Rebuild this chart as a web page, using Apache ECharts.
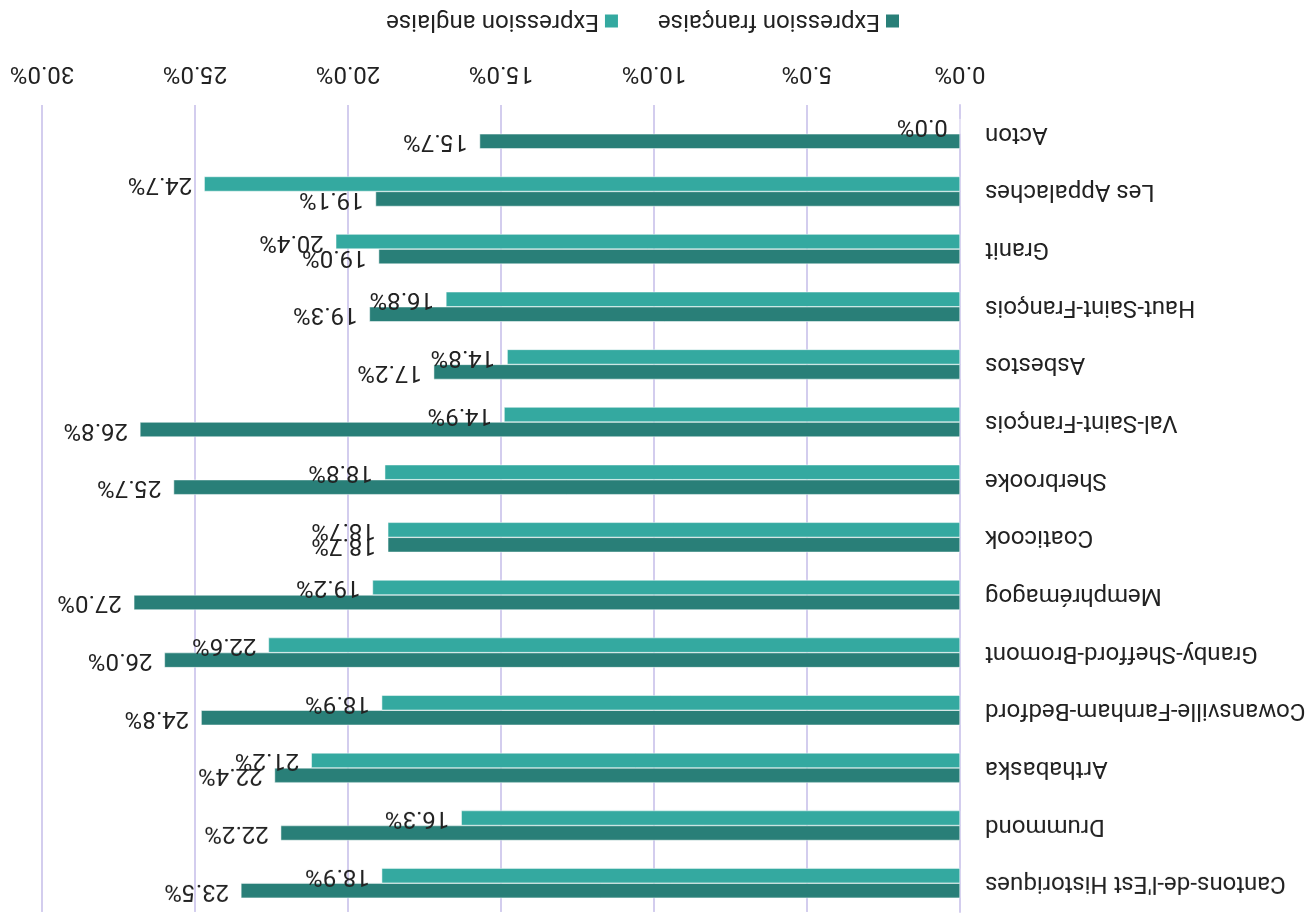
<!DOCTYPE html>
<html>
<head>
<meta charset="utf-8">
<script src="https://cdn.jsdelivr.net/npm/echarts@6/dist/echarts.min.js"></script>
<style>
  html, body { margin: 0; padding: 0; background: #fff; }
  #chart { width: 1309px; height: 920px; transform: rotate(180deg); }
</style>
</head>
<body>
<div id="chart"></div>
<script>
// regions, top to bottom
var regions = ['Cantons-de-l\'Est Historiques', 'Drummond', 'Arthabaska', 'Cowansville-Farnham-Bedford',
  'Granby-Shefford-Bromont', 'Memphrémagog', 'Coaticook', 'Sherbrooke', 'Val-Saint-François',
  'Asbestos', 'Haut-Saint-François', 'Granit', 'Les Appalaches', 'Acton'];
var francaise = [23.5, 22.2, 22.4, 24.8, 26.0, 27.0, 18.7, 25.7, 26.8, 17.2, 19.3, 19.0, 19.1, 15.7];
var anglaise = [18.9, 16.3, 21.2, 18.9, 22.6, 19.2, 18.7, 18.8, 14.9, 14.8, 16.8, 20.4, 24.7, 0.0];
var seriesNames = ['Expression française', 'Expression anglaise'];

var chart = echarts.init(document.getElementById('chart'));
var font = 'Roboto, "Liberation Sans", sans-serif';
var pct = function (v) { return v.toFixed(1) + '%'; };

var label = {
  show: true,
  position: 'right',
  distance: 12,
  color: '#222',
  fontSize: 24,
  fontFamily: font,
  formatter: function (p) { return pct(p.value); }
};

chart.setOption({
  animation: false,
  textStyle: { fontFamily: font },
  legend: {
    bottom: 4,
    left: 403,
    icon: 'rect',
    itemWidth: 15,
    itemHeight: 15,
    itemGap: 38,
    textStyle: { fontSize: 24, color: '#222' },
    data: seriesNames
  },
  grid: { left: 349, right: 42, top: 8, bottom: 105, outerBoundsMode: 'none', containLabel: false },
  xAxis: {
    type: 'value',
    min: 0,
    max: 30,
    interval: 5,
    axisLabel: { formatter: pct, fontSize: 24, color: '#222', margin: 20 },
    axisLine: { show: false },
    axisTick: { show: false },
    splitLine: { lineStyle: { color: '#d3cdee', width: 2 } }
  },
  yAxis: {
    type: 'category',
    data: regions,
    inverse: true,
    axisLabel: { fontSize: 24, color: '#222', margin: 25 },
    axisLine: { show: true, lineStyle: { color: '#d3cdee', width: 2 } },
    axisTick: { show: false }
  },
  series: [
    {
      name: seriesNames[0],
      type: 'bar',
      data: francaise,
      barGap: '0%',
      barCategoryGap: '48%',
      itemStyle: { color: '#297f78', borderColor: '#fff', borderWidth: 0.5 },
      label: label
    },
    {
      name: seriesNames[1],
      type: 'bar',
      data: anglaise,
      itemStyle: { color: '#34a9a0', borderColor: '#fff', borderWidth: 0.5 },
      label: label
    }
  ]
});
</script>
</body>
</html>
